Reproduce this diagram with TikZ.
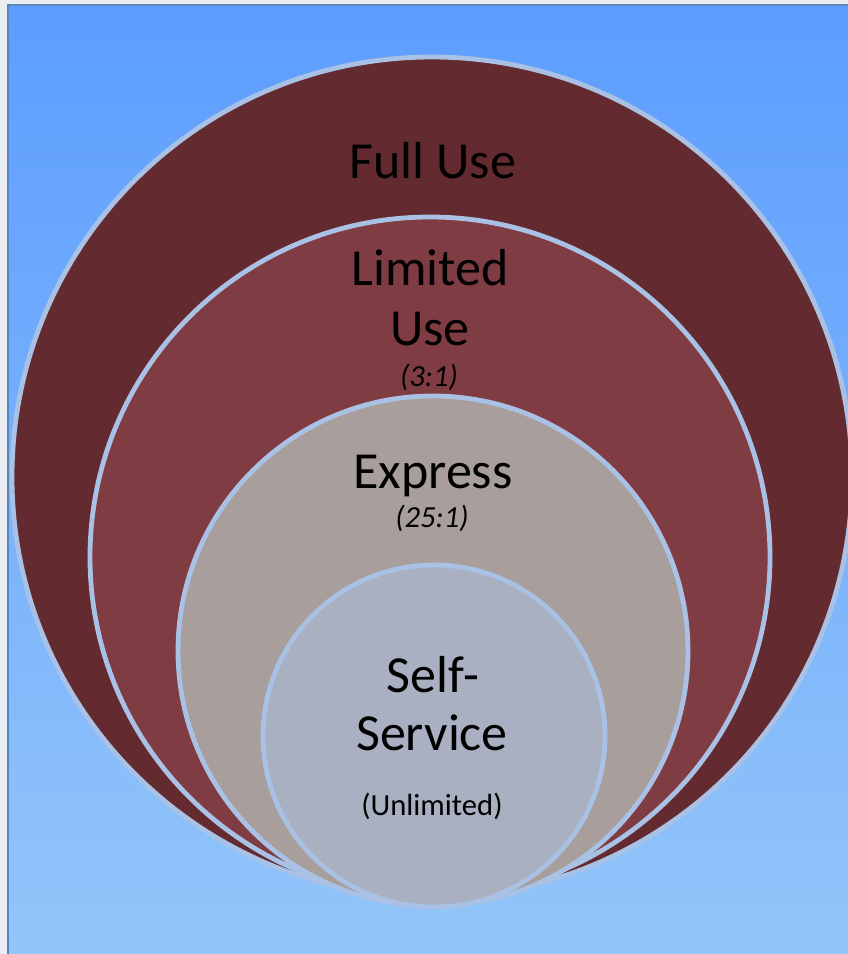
\documentclass[tikz,border=0pt]{standalone}
\usepackage{fontspec}
\setmainfont{Carlito}

\definecolor{fullc}{HTML}{632A2F}
\definecolor{limc}{HTML}{803C43}
\definecolor{expc}{HTML}{A89F9D}
\definecolor{selfc}{HTML}{A8B0C1}
\definecolor{ringc}{HTML}{A9C1E4}
\definecolor{skytop}{HTML}{5C9DFF}
\definecolor{skybot}{HTML}{94C6F9}
\definecolor{framec}{HTML}{5A86BF}
\definecolor{pagec}{HTML}{E9EDF2}

\tikzset{
  ring/.style={circle, draw=ringc, line width=3.6pt, inner sep=0pt},
  big/.style={anchor=base, font=\fontsize{39}{47}\selectfont},
  small/.style={anchor=base, font=\fontsize{23}{28}\selectfont},
  ratio/.style={anchor=base, font=\fontsize{23}{28}\selectfont\itshape},
}

\begin{document}
\begin{tikzpicture}[x=0.75pt,y=-0.75pt]
            \clip (0,0) rectangle (848,954);
            \fill[pagec] (0,0) rectangle (848,954);
            \shade[top color=skytop, bottom color=skybot, draw=framec, line width=1.5pt] (8,5) rectangle (860,965);

            \node[ring, fill=fullc, minimum size=630pt] (full) at (432,477) {};
            \node[ring, fill=limc, minimum size=510pt] (lim) at (430,557) {};
            \node[ring, fill=expc, minimum size=382.5pt] (exp) at (433,651) {};
            \node[ring, fill=selfc, minimum size=256.5pt] (self) at (434,736) {};

            \node[big] (fulltxt) at (433,178) {Full Use};
            \node[big] (limtxt) at (430,285) {Limited};
            \node[big] (limtxtb) at (430,345) {Use};
            \node[ratio] (limratio) at (429,386) {(3:1)};
            \node[big] (exptxt) at (433,488) {Express};
            \node[ratio] (expratio) at (432,527) {(25:1)};
            \node[big] (selftxt) at (433,692) {Self-};
            \node[big] (selftxtb) at (432,750) {Service};
            \node[small] (selfratio) at (432,815) {(Unlimited)};
        \end{tikzpicture}
\end{document}
